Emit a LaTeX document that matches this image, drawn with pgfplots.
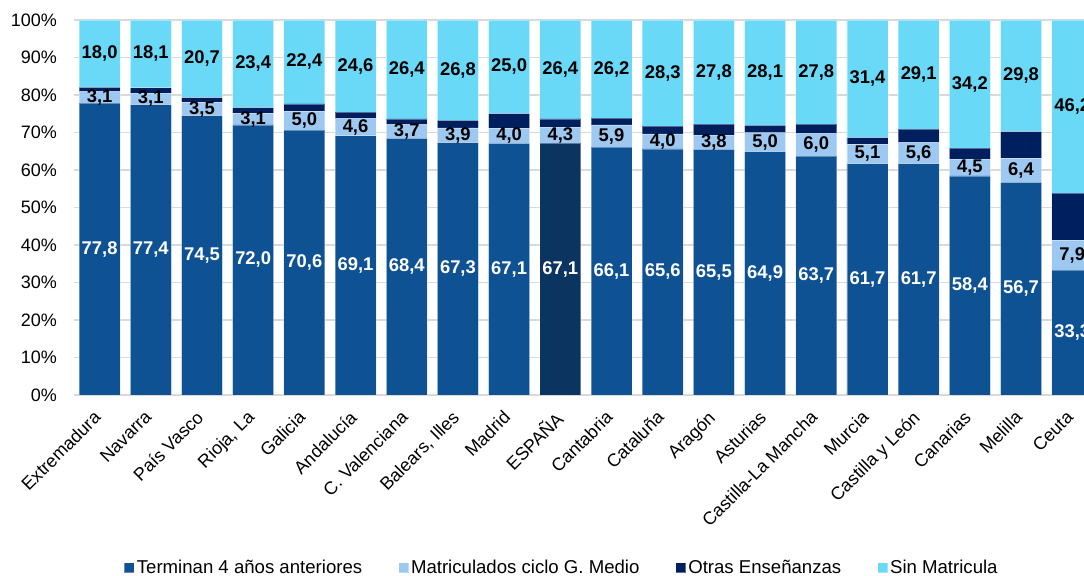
\documentclass[border=0pt]{standalone}
\usepackage{pgfplots}
\usepackage{pgfplotstable}
\pgfplotsset{compat=1.18}
\usepackage{fontspec}
\setmainfont{Liberation Sans}

\definecolor{cTerm}{RGB}{15,82,148}
\definecolor{cEsp}{RGB}{11,52,96}
\definecolor{cMat}{RGB}{156,200,242}
\definecolor{cOtr}{RGB}{0,31,94}
\definecolor{cSin}{RGB}{106,217,248}
\definecolor{cGrid}{RGB}{217,217,217}

% t = Terminan 4 anos anteriores, e = idem ESPANA (barra oscura),
% m = Matriculados ciclo G. Medio, o = Otras Ensenanzas, s = Sin Matricula
\pgfplotstableread{
x  t    e    m   o    s
0  77.8 0    3.1 1.1  18.0
1  77.4 0    3.1 1.4  18.1
2  74.5 0    3.5 1.3  20.7
3  72.0 0    3.1 1.5  23.4
4  70.6 0    5.0 2.0  22.4
5  69.1 0    4.6 1.7  24.6
6  68.4 0    3.7 1.5  26.4
7  67.3 0    3.9 2.0  26.8
8  67.1 0    4.0 3.9  25.0
9  0    67.1 4.3 2.2  26.4
10 66.1 0    5.9 1.8  26.2
11 65.6 0    4.0 2.1  28.3
12 65.5 0    3.8 2.9  27.8
13 64.9 0    5.0 2.0  28.1
14 63.7 0    6.0 2.5  27.8
15 61.7 0    5.1 1.8  31.4
16 61.7 0    5.6 3.6  29.1
17 58.4 0    4.5 2.9  34.2
18 56.7 0    6.4 7.1  29.8
19 33.3 0    7.9 12.6 46.2
}\datos

\pgfplotsset{
  lbl/.style={
    point meta=explicit,
    nodes near coords={\pgfmathfloatifflags{\pgfplotspointmeta}{0}{}{\pgfmathprintnumber[fixed,fixed zerofill,precision=1,use comma]{\pgfplotspointmeta}}},
    every node near coord/.append style={anchor=center, text=#1,
      font=\bfseries\fontsize{9.2}{10}\selectfont},
  },
}

\begin{document}
\begin{tikzpicture}
\begin{axis}[
  at={(37pt,90.5pt)}, anchor=south west,
  scale only axis, width=505pt, height=187.5pt,
  ybar stacked, bar width=0.8,
  xmin=-0.5, xmax=19.23, ymin=0, ymax=100,
  axis line style={draw=none},
  major tick length=0pt,
  ymajorgrids, grid style={cGrid, line width=0.75pt},
  ytick={0,10,...,100},
  yticklabel={\pgfmathprintnumber{\tick}\%},
  yticklabel style={xshift=-5pt},
  /pgf/number format/assume math mode=true,
  xtick={0,...,19},
  xticklabels={Extremadura,Navarra,País Vasco,{Rioja, La},Galicia,Andalucía,C. Valenciana,{Balears, Illes},Madrid,ESPAÑA,Cantabria,Cataluña,Aragón,Asturias,Castilla-La Mancha,Murcia,Castilla y León,Canarias,Melilla,Ceuta},
  xticklabel style={anchor=north east, inner sep=0pt, xshift=-3.5pt, yshift=-7pt, rotate=45},
  tick label style={font=\fontsize{9}{10}\selectfont},
  legend columns=4,
  legend style={at={(0.483,-0.461)}, anchor=center, draw=none,
    font=\fontsize{9.3}{11}\selectfont,
    nodes={inner xsep=1pt},
    /tikz/every even column/.append style={column sep=17pt}},
  legend image code/.code={\fill[#1] (0pt,-2.5pt) rectangle (5pt,2.5pt);},
  every axis plot/.append style={draw=white, draw opacity=0.35, line width=0.4pt},
]
\addplot[fill=cTerm, lbl=white] table[x=x, y=t, meta=t]{\datos};
\addlegendentry{Terminan 4 años anteriores}
\addplot[fill=cEsp, lbl=white, forget plot] table[x=x, y=e, meta=e]{\datos};
\addplot[fill=cMat, lbl=black] table[x=x, y=m, meta=m]{\datos};
\addlegendentry{Matriculados ciclo G. Medio}
\addplot[fill=cOtr] table[x=x, y=o]{\datos};
\addlegendentry{Otras Enseñanzas}
\addplot[fill=cSin, lbl=black] table[x=x, y=s, meta=s]{\datos};
\addlegendentry{Sin Matricula}
\end{axis}
\pgfresetboundingbox
\path[use as bounding box] (0,0) rectangle (542pt,288pt);
\end{tikzpicture}
\end{document}
